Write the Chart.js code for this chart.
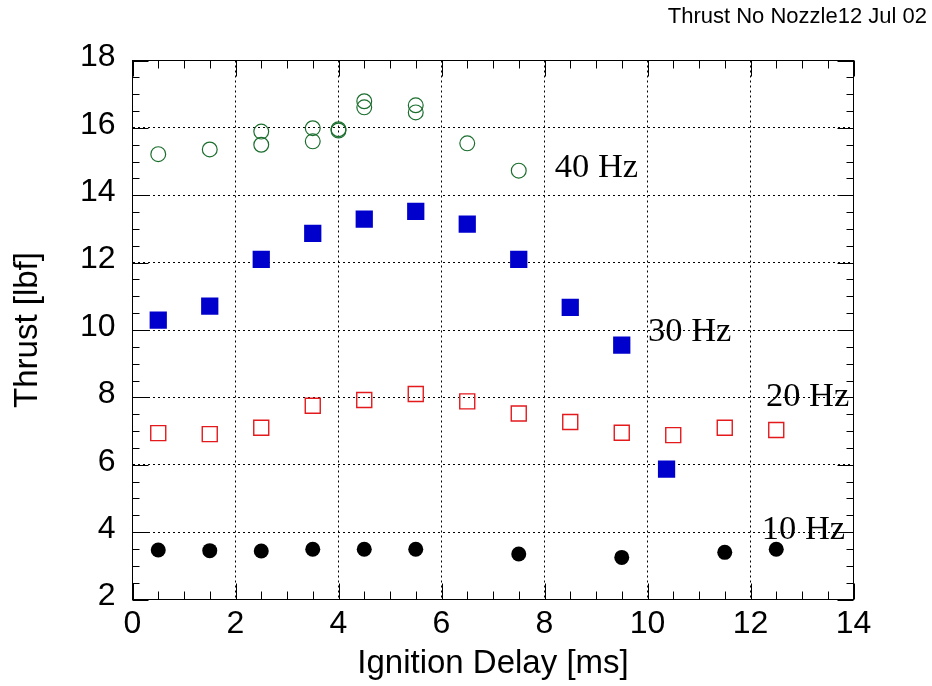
<!DOCTYPE html>
<html>
<head>
<meta charset="utf-8">
<script src="https://cdn.jsdelivr.net/npm/chart.js@4.4.0/dist/chart.umd.min.js"></script>
<style>
  body { margin: 0; background: #fff; }
  #wrap { width: 932px; height: 686px; }
</style>
</head>
<body>
<div id="wrap"><canvas id="thrustChart" width="932" height="686"></canvas></div>
<script>
// ---- data ----
const hz10X = [0.5, 1.5, 2.5, 3.5, 4.5, 5.5, 7.5, 9.5, 11.5, 12.5];
const hz10Y = [3.47, 3.45, 3.44, 3.49, 3.49, 3.49, 3.35, 3.25, 3.40, 3.49];

const hz20X = [0.5, 1.5, 2.5, 3.5, 4.5, 5.5, 6.5, 7.5, 8.5, 9.5, 10.5, 11.5, 12.5];
const hz20Y = [6.94, 6.91, 7.10, 7.75, 7.92, 8.10, 7.88, 7.52, 7.27, 6.95, 6.88, 7.10, 7.03];

const hz30X = [0.5, 1.5, 2.5, 3.5, 4.5, 5.5, 6.5, 7.5, 8.5, 9.5, 10.37];
const hz30Y = [10.29, 10.71, 12.10, 12.87, 13.29, 13.52, 13.14, 12.10, 10.67, 9.55, 5.87];

const hz40X = [0.5, 1.5, 2.5, 2.5, 3.5, 3.5, 4.0, 4.0, 4.5, 4.5, 5.5, 5.5, 6.5, 7.5];
const hz40Y = [15.22, 15.36, 15.89, 15.50, 15.99, 15.60, 15.96, 15.92, 16.79, 16.61, 16.67, 16.46, 15.54, 14.73];

const xTicks = [0, 2, 4, 6, 8, 10, 12, 14];
const yTicks = [2, 4, 6, 8, 10, 12, 14, 16, 18];

// series labels placed in data coordinates (left edge, baseline)
const seriesLabels = ["40 Hz", "30 Hz", "20 Hz", "10 Hz"];
const seriesLabelX = [8.20, 10.01, 12.30, 12.22];
const seriesLabelY = [14.55, 9.67, 7.74, 3.80];

const cornerNote = "Thrust No Nozzle12 Jul 02";

function pts(xs, ys) {
    return xs.map((x, i) => ({ x: x, y: ys[i] }));
}

// frame, inward ticks, series labels, corner note
const framePlugin = {
    id: "framePlugin",
    afterDatasetsDraw(chart) {
        const ctx = chart.ctx;
        const xs = chart.scales.x, ys = chart.scales.y;
        ctx.save();
        ctx.fillStyle = "#000";
        ctx.font = "34.5px 'Liberation Serif', 'Times New Roman', serif";
        ctx.textAlign = "left";
        ctx.textBaseline = "alphabetic";
        seriesLabels.forEach((t, i) => {
            ctx.fillText(t, xs.getPixelForValue(seriesLabelX[i]), ys.getPixelForValue(seriesLabelY[i]));
        });
        ctx.restore();
    },
    afterDraw(chart) {
        const ctx = chart.ctx;
        const a = chart.chartArea;
        const xs = chart.scales.x, ys = chart.scales.y;
        ctx.save();
        ctx.strokeStyle = "#000";
        ctx.lineWidth = 1;
        ctx.setLineDash([]);
        ctx.strokeRect(a.left, a.top, a.right - a.left, a.bottom - a.top);

        ctx.beginPath();
        for (let v = xs.min; v <= xs.max + 1e-9; v += 0.5) {
            const px = Math.round(xs.getPixelForValue(v)) + 0.5;
            const len = (Math.abs(v % 2) < 1e-9) ? 16 : 8;
            ctx.moveTo(px, a.bottom); ctx.lineTo(px, a.bottom - len);
            ctx.moveTo(px, a.top); ctx.lineTo(px, a.top + len);
        }
        for (let v = ys.min; v <= ys.max + 1e-9; v += 0.5) {
            const py = Math.round(ys.getPixelForValue(v)) + 0.5;
            const len = (Math.abs(v % 2) < 1e-9) ? 16 : 7;
            ctx.moveTo(a.left, py); ctx.lineTo(a.left + len, py);
            ctx.moveTo(a.right, py); ctx.lineTo(a.right - len, py);
        }
        ctx.stroke();

        ctx.fillStyle = "#000";
        ctx.font = "22px 'Liberation Sans', Arial, sans-serif";
        ctx.textAlign = "right";
        ctx.textBaseline = "alphabetic";
        ctx.fillText(cornerNote, 927, 23);
        ctx.restore();
    }
};

const tickFont = { family: "'Liberation Sans', Arial, sans-serif", size: 32 };
const titleFont = { family: "'Liberation Sans', Arial, sans-serif", size: 33 };

new Chart(document.getElementById("thrustChart").getContext("2d"), {
    type: "scatter",
    data: {
        datasets: [
            { label: "10 Hz", data: pts(hz10X, hz10Y), pointStyle: "circle", pointRadius: 7.5,
              backgroundColor: "#000", borderColor: "#000", borderWidth: 0 },
            { label: "20 Hz", data: pts(hz20X, hz20Y), pointStyle: "rect", pointRadius: 10.6,
              backgroundColor: "rgba(0,0,0,0)", borderColor: "#e3191c", borderWidth: 1.4 },
            { label: "30 Hz", data: pts(hz30X, hz30Y), pointStyle: "rect", pointRadius: 12.2,
              backgroundColor: "#0000cc", borderColor: "#0000cc", borderWidth: 0 },
            { label: "40 Hz", data: pts(hz40X, hz40Y), pointStyle: "circle", pointRadius: 7.4,
              backgroundColor: "rgba(0,0,0,0)", borderColor: "#1b6e2e", borderWidth: 1.2 }
        ]
    },
    options: {
        responsive: false,
        animation: false,
        layout: { padding: { top: 60.5, right: 78.5, left: 0, bottom: 0 } },
        plugins: { legend: { display: false }, tooltip: { enabled: false } },
        elements: { point: { hoverRadius: 7 } },
        scales: {
            x: {
                type: "linear", min: 0, max: 14,
                afterBuildTicks: s => { s.ticks = xTicks.map(v => ({ value: v })); },
                afterFit: s => { s.height = 86.5; },
                ticks: { font: tickFont, color: "#000", padding: 5, maxRotation: 0 },
                grid: { color: "#000", lineWidth: 1, drawTicks: false },
                border: { display: false, dash: [2, 3] },
                title: { display: true, text: "Ignition Delay [ms]", font: titleFont, color: "#000",
                         padding: { top: 0, bottom: 2 } }
            },
            y: {
                type: "linear", min: 2, max: 18,
                afterBuildTicks: s => { s.ticks = yTicks.map(v => ({ value: v })); },
                afterFit: s => { s.width = 132.5; },
                ticks: { font: tickFont, color: "#000", padding: 17, labelOffset: -3 },
                grid: { color: "#000", lineWidth: 1, drawTicks: false },
                border: { display: false, dash: [2, 3] },
                title: { display: true, text: "Thrust [lbf]", font: titleFont, color: "#000",
                         padding: { top: 8, bottom: 0 } }
            }
        }
    },
    plugins: [framePlugin]
});
</script>
</body>
</html>
